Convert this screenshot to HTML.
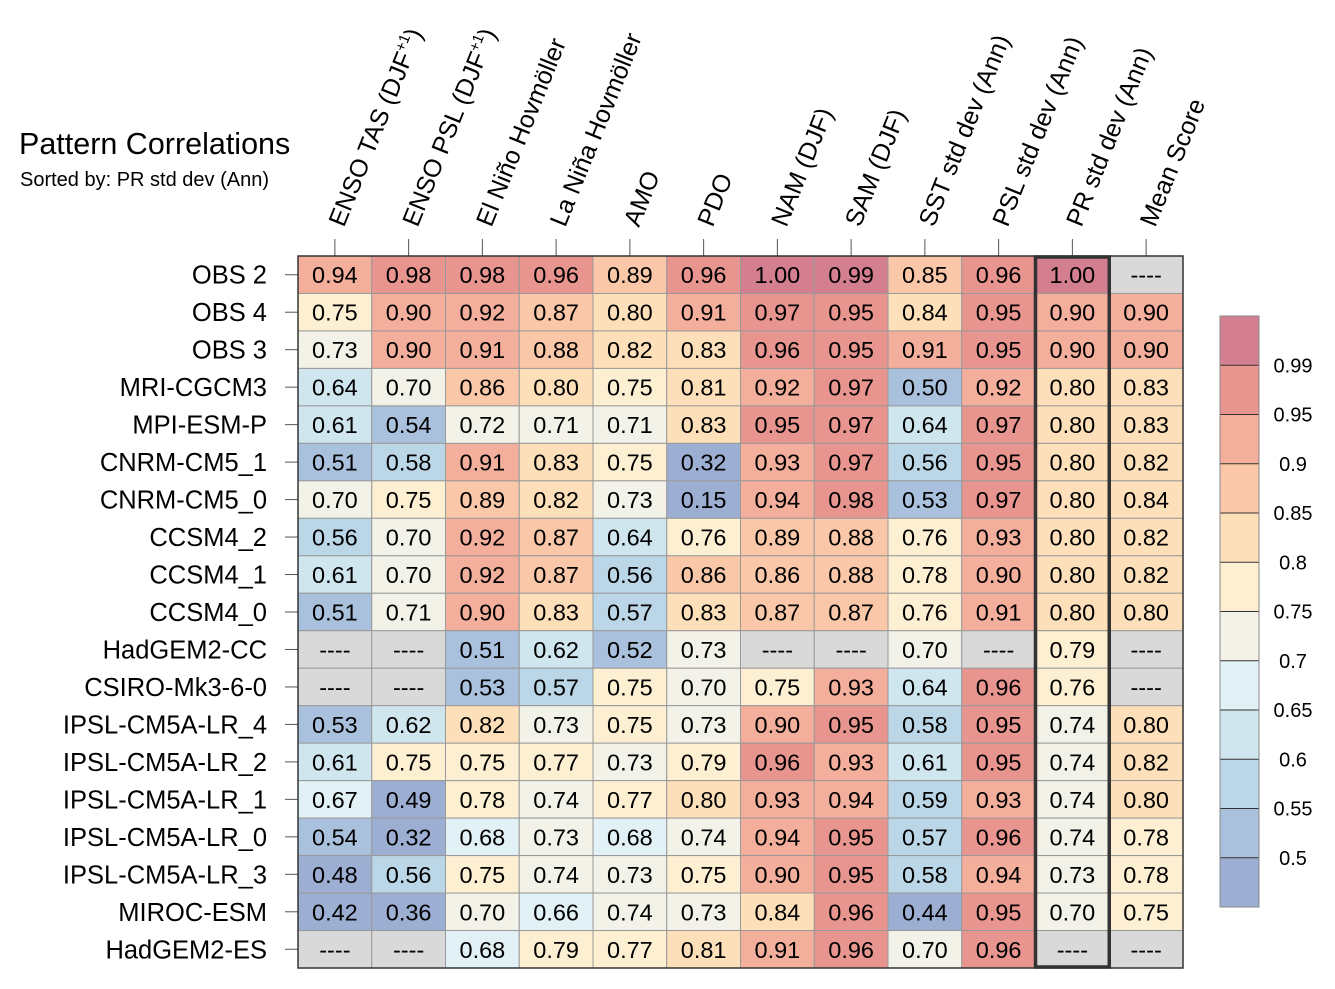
<!DOCTYPE html>
<html><head><meta charset="utf-8"><style>
html,body{margin:0;padding:0;background:#fff;}
svg{display:block;font-family:"Liberation Sans",Arial,sans-serif;}
</style></head><body>
<svg id="chart" width="1335" height="989" viewBox="0 0 1335 989">
<text x="19" y="154" font-size="30.5" fill="#000">Pattern Correlations</text>
<text x="20" y="186" font-size="20" fill="#000">Sorted by: PR std dev (Ann)</text>
<g id="grid"></g><g id="cbar"></g>
</svg>
<script>
const columns=["ENSO TAS (DJF+1)","ENSO PSL (DJF+1)","El Niño Hovmöller","La Niña Hovmöller","AMO","PDO","NAM (DJF)","SAM (DJF)","SST std dev (Ann)","PSL std dev (Ann)","PR std dev (Ann)","Mean Score"];
const rows=["OBS 2","OBS 4","OBS 3","MRI-CGCM3","MPI-ESM-P","CNRM-CM5_1","CNRM-CM5_0","CCSM4_2","CCSM4_1","CCSM4_0","HadGEM2-CC","CSIRO-Mk3-6-0","IPSL-CM5A-LR_4","IPSL-CM5A-LR_2","IPSL-CM5A-LR_1","IPSL-CM5A-LR_0","IPSL-CM5A-LR_3","MIROC-ESM","HadGEM2-ES"];
const values=[
[0.94,0.98,0.98,0.96,0.89,0.96,1.00,0.99,0.85,0.96,1.00,null],
[0.75,0.90,0.92,0.87,0.80,0.91,0.97,0.95,0.84,0.95,0.90,0.90],
[0.73,0.90,0.91,0.88,0.82,0.83,0.96,0.95,0.91,0.95,0.90,0.90],
[0.64,0.70,0.86,0.80,0.75,0.81,0.92,0.97,0.50,0.92,0.80,0.83],
[0.61,0.54,0.72,0.71,0.71,0.83,0.95,0.97,0.64,0.97,0.80,0.83],
[0.51,0.58,0.91,0.83,0.75,0.32,0.93,0.97,0.56,0.95,0.80,0.82],
[0.70,0.75,0.89,0.82,0.73,0.15,0.94,0.98,0.53,0.97,0.80,0.84],
[0.56,0.70,0.92,0.87,0.64,0.76,0.89,0.88,0.76,0.93,0.80,0.82],
[0.61,0.70,0.92,0.87,0.56,0.86,0.86,0.88,0.78,0.90,0.80,0.82],
[0.51,0.71,0.90,0.83,0.57,0.83,0.87,0.87,0.76,0.91,0.80,0.80],
[null,null,0.51,0.62,0.52,0.73,null,null,0.70,null,0.79,null],
[null,null,0.53,0.57,0.75,0.70,0.75,0.93,0.64,0.96,0.76,null],
[0.53,0.62,0.82,0.73,0.75,0.73,0.90,0.95,0.58,0.95,0.74,0.80],
[0.61,0.75,0.75,0.77,0.73,0.79,0.96,0.93,0.61,0.95,0.74,0.82],
[0.67,0.49,0.78,0.74,0.77,0.80,0.93,0.94,0.59,0.93,0.74,0.80],
[0.54,0.32,0.68,0.73,0.68,0.74,0.94,0.95,0.57,0.96,0.74,0.78],
[0.48,0.56,0.75,0.74,0.73,0.75,0.90,0.95,0.58,0.94,0.73,0.78],
[0.42,0.36,0.70,0.66,0.74,0.73,0.84,0.96,0.44,0.95,0.70,0.75],
[null,null,0.68,0.79,0.77,0.81,0.91,0.96,0.70,0.96,null,null]];
const levels=[0.5,0.55,0.6,0.65,0.7,0.75,0.8,0.85,0.9,0.95,0.99];
const levelLabels=["0.5","0.55","0.6","0.65","0.7","0.75","0.8","0.85","0.9","0.95","0.99"];
const palette=["#9daed3","#a9c1dc","#bbd6e7","#d0e6ef","#e2f1f5","#f3f2e8","#fdefd1","#fde0b9","#fac8a8","#f4ae9c","#e8958f","#d47f90"];
const highlightCol=10;

const NS="http://www.w3.org/2000/svg";
const X0=298,X1=1183,Y0=256,Y1=968;
const cw=(X1-X0)/columns.length, rh=(Y1-Y0)/rows.length;
const xc=i=>X0+cw*i, yr=j=>Y0+rh*j;
function colorOf(v){if(v===null)return "#d9d9d9";let k=0;for(let i=0;i<levels.length;i++)if(v>=levels[i]-1e-9)k=i+1;return palette[k];}
function mk(tag,attrs,parent){const e=document.createElementNS(NS,tag);for(const a in attrs)e.setAttribute(a,attrs[a]);parent.appendChild(e);return e;}
const g=document.getElementById('grid');
rows.forEach((r,j)=>{
  const t=mk('text',{x:267,y:yr(j)+rh/2+9,'font-size':25.5,'text-anchor':'end'},g);
  t.textContent=r;
  
  
  const tk=mk('line',{x1:285,x2:X0,y1:yr(j)+rh/2,y2:yr(j)+rh/2,stroke:'#555','stroke-width':1},g);
  
  
  columns.forEach((c,i)=>{
    const v=values[j][i];
    const rc=mk('rect',{x:xc(i),y:yr(j),width:cw,height:rh,fill:colorOf(v),stroke:'#999','stroke-width':1},g);
    
    
    const tx=mk('text',{x:xc(i)+cw/2,y:yr(j)+rh/2+8.5,'font-size':23.5,'text-anchor':'middle'},g);
    tx.textContent=v===null?'----':v.toFixed(2);
    
    
  });
});
columns.forEach((c,i)=>{
  const cx=xc(i)+cw/2;
  const tk=mk('line',{x1:cx,x2:cx,y1:239,y2:Y0,stroke:'#555','stroke-width':1},g);
  
  
  const t=mk('text',{x:0,y:0,'font-size':25,transform:`translate(${cx+9},228) rotate(-68)`},g);
  const m=c.match(/^(.*)\(DJF\+1\)$/);
  if(m){t.textContent=m[1]+'(DJF';const s=mk('tspan',{'font-size':15,dy:-10},t);s.textContent='+1';const s2=mk('tspan',{dy:10},t);s2.textContent=')';}
  else t.textContent=c;
  
  
});
const fr=mk('rect',{x:X0,y:Y0,width:X1-X0,height:Y1-Y0,fill:'none',stroke:'#333','stroke-width':1.5},g);


const hl=mk('rect',{x:xc(highlightCol),y:Y0+1,width:cw,height:Y1-Y0-2,fill:'none',stroke:'#333','stroke-width':3.5},g);



const cb=document.getElementById('cbar');
const CX=1220,CW=39,CY0=316,CY1=907,bh=(CY1-CY0)/palette.length;
palette.forEach((col,k)=>{
  const y=CY1-(k+1)*bh;
  const r=mk('rect',{x:CX,y:y,width:CW,height:bh,fill:col},cb);
  
  
});
levels.forEach((lv,k)=>{
  const y=CY1-(k+1)*bh;
  const l=mk('line',{x1:CX,x2:CX+CW,y1:y,y2:y,stroke:'#333','stroke-width':1},cb);
  
  
  const t=mk('text',{x:1293,y:y+7,'font-size':20,'text-anchor':'middle'},cb);
  t.textContent=levelLabels[k];
  
  
});
const cf=mk('rect',{x:CX,y:CY0,width:CW,height:CY1-CY0,fill:'none',stroke:'#888','stroke-width':1},cb);


</script>
</body></html>
